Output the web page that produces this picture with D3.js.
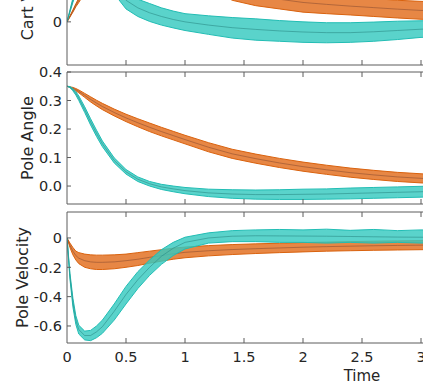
<!DOCTYPE html>
<html>
<head>
<meta charset="utf-8">
<script src="https://cdn.jsdelivr.net/npm/d3@7"></script>
<style>
  html, body { margin: 0; padding: 0; background: #fff; }
  svg { display: block; font-family: "DejaVu Sans", sans-serif; }
</style>
</head>
<body>
<svg id="chart" width="423" height="392"></svg>
<script>
// sample times (s)
const time = [0, 0.025, 0.05, 0.075, 0.1, 0.15, 0.2, 0.25, 0.3, 0.4, 0.5, 0.6, 0.7, 0.8, 0.9, 1.0, 1.2, 1.4, 1.6, 1.8, 2.0, 2.2, 2.4, 2.6, 2.8, 3.0, 3.25];

// Cart velocity bundles (low edge, middle, high edge)
const cartOrangeLo  = [0, 0.022, 0.045, 0.07, 0.09, 0.135, 0.17, 0.205, 0.23, 0.265, 0.28, 0.285, 0.28, 0.265, 0.245, 0.225, 0.165, 0.1, 0.075, 0.06, 0.045, 0.038, 0.032, 0.025, 0.018, 0.012, 0.008];
const cartOrangeMid = [0, 0.025, 0.05, 0.077, 0.1, 0.15, 0.19, 0.23, 0.26, 0.3, 0.32, 0.325, 0.32, 0.305, 0.285, 0.265, 0.21, 0.15, 0.122, 0.105, 0.09, 0.081, 0.073, 0.066, 0.059, 0.053, 0.049];
const cartOrangeHi  = [0, 0.028, 0.055, 0.084, 0.11, 0.165, 0.21, 0.255, 0.29, 0.335, 0.36, 0.365, 0.36, 0.345, 0.325, 0.305, 0.255, 0.2, 0.17, 0.15, 0.135, 0.125, 0.115, 0.108, 0.1, 0.095, 0.09];
const cartTealLo    = [0, 0.045, 0.09, 0.13, 0.17, 0.23, 0.26, 0.26, 0.23, 0.13, 0.06, 0.025, 0.002, -0.015, -0.028, -0.04, -0.058, -0.075, -0.085, -0.09, -0.095, -0.097, -0.095, -0.09, -0.082, -0.072, -0.068];
const cartTealMid   = [0, 0.05, 0.1, 0.15, 0.19, 0.26, 0.3, 0.3, 0.27, 0.17, 0.1, 0.065, 0.042, 0.025, 0.011, 0.0, -0.015, -0.027, -0.035, -0.042, -0.047, -0.05, -0.05, -0.046, -0.04, -0.034, -0.03];
const cartTealHi    = [0, 0.055, 0.11, 0.17, 0.21, 0.29, 0.34, 0.35, 0.32, 0.22, 0.14, 0.105, 0.085, 0.065, 0.05, 0.038, 0.028, 0.02, 0.014, 0.006, 0.0, -0.004, -0.004, -0.001, 0.003, 0.005, 0.008];

// Pole angle bundles
const angleOrangeLo  = [0.35, 0.346, 0.34, 0.334, 0.327, 0.311, 0.295, 0.281, 0.268, 0.246, 0.226, 0.208, 0.191, 0.176, 0.162, 0.148, 0.12, 0.097, 0.08, 0.065, 0.052, 0.041, 0.031, 0.023, 0.016, 0.011, 0.006];
const angleOrangeMid = [0.35, 0.347, 0.343, 0.338, 0.332, 0.318, 0.304, 0.291, 0.279, 0.258, 0.239, 0.222, 0.206, 0.191, 0.177, 0.163, 0.136, 0.113, 0.096, 0.081, 0.068, 0.057, 0.047, 0.039, 0.032, 0.027, 0.022];
const angleOrangeHi  = [0.35, 0.348, 0.346, 0.342, 0.337, 0.325, 0.313, 0.301, 0.29, 0.27, 0.252, 0.236, 0.221, 0.206, 0.192, 0.178, 0.152, 0.129, 0.112, 0.097, 0.084, 0.073, 0.063, 0.055, 0.048, 0.043, 0.038];
const angleTealLo    = [0.35, 0.345, 0.334, 0.319, 0.3, 0.258, 0.214, 0.174, 0.138, 0.081, 0.042, 0.016, 0.0, -0.012, -0.02, -0.027, -0.037, -0.043, -0.046, -0.047, -0.047, -0.046, -0.045, -0.043, -0.041, -0.039, -0.037];
const angleTealMid   = [0.35, 0.347, 0.338, 0.325, 0.308, 0.268, 0.225, 0.185, 0.148, 0.09, 0.05, 0.024, 0.008, -0.003, -0.01, -0.016, -0.024, -0.028, -0.03, -0.03, -0.029, -0.028, -0.026, -0.024, -0.022, -0.02, -0.018];
const angleTealHi    = [0.35, 0.349, 0.342, 0.331, 0.316, 0.278, 0.236, 0.196, 0.158, 0.099, 0.058, 0.032, 0.016, 0.006, 0.0, -0.005, -0.011, -0.013, -0.014, -0.013, -0.011, -0.01, -0.007, -0.005, -0.003, -0.001, 0.001];

// Pole velocity bundles
const poleOrangeLo  = [0, -0.065, -0.115, -0.15, -0.175, -0.2, -0.21, -0.215, -0.215, -0.21, -0.2, -0.188, -0.172, -0.158, -0.145, -0.135, -0.122, -0.113, -0.106, -0.1, -0.095, -0.09, -0.087, -0.084, -0.082, -0.08, -0.077];
const poleOrangeMid = [0, -0.05, -0.09, -0.12, -0.138, -0.155, -0.163, -0.166, -0.166, -0.163, -0.155, -0.145, -0.132, -0.12, -0.108, -0.098, -0.087, -0.079, -0.073, -0.068, -0.063, -0.059, -0.056, -0.053, -0.051, -0.049, -0.046];
const poleOrangeHi  = [0, -0.035, -0.065, -0.09, -0.1, -0.11, -0.115, -0.117, -0.117, -0.115, -0.11, -0.1, -0.09, -0.08, -0.07, -0.062, -0.052, -0.045, -0.04, -0.036, -0.031, -0.028, -0.025, -0.022, -0.02, -0.018, -0.015];
const poleTealLo    = [0, -0.28, -0.47, -0.59, -0.655, -0.695, -0.7, -0.68, -0.65, -0.56, -0.45, -0.345, -0.255, -0.18, -0.12, -0.075, -0.035, -0.025, -0.025, -0.03, -0.03, -0.035, -0.03, -0.035, -0.03, -0.035, -0.03];
const poleTealMid   = [0, -0.26, -0.44, -0.56, -0.625, -0.665, -0.665, -0.64, -0.605, -0.5, -0.385, -0.285, -0.2, -0.125, -0.07, -0.03, 0.0, 0.012, 0.015, 0.014, 0.013, 0.012, 0.01, 0.008, 0.006, 0.005, 0.004];
const poleTealHi    = [0, -0.24, -0.41, -0.53, -0.595, -0.635, -0.63, -0.6, -0.56, -0.45, -0.33, -0.23, -0.15, -0.08, -0.03, 0.005, 0.035, 0.05, 0.055, 0.058, 0.055, 0.06, 0.052, 0.058, 0.05, 0.055, 0.05];

const xTicks = [0, 0.5, 1, 1.5, 2, 2.5, 3];

const orange = { fill: "#e26d1c", line: "#d9620e", dark: "#8f5032" };
const teal = { fill: "#36c9c0", line: "#22bdb4", dark: "#2b8c87" };

const panels = [
  { label: "Cart Velocity", top: -86, bottom: 65, domain: [-0.2, 0.5], ticks: [0], labelX: 33,
    bundles: [[orange, cartOrangeLo, cartOrangeMid, cartOrangeHi], [teal, cartTealLo, cartTealMid, cartTealHi]] },
  { label: "Pole Angle", top: 72, bottom: 204, domain: [-0.063, 0.4], ticks: [0, 0.1, 0.2, 0.3, 0.4], labelX: 33,
    bundles: [[orange, angleOrangeLo, angleOrangeMid, angleOrangeHi], [teal, angleTealLo, angleTealMid, angleTealHi]] },
  { label: "Pole Velocity", top: 212, bottom: 343, domain: [-0.716, 0.177], ticks: [-0.6, -0.4, -0.2, 0], labelX: 28,
    bundles: [[orange, poleOrangeLo, poleOrangeMid, poleOrangeHi], [teal, poleTealLo, poleTealMid, poleTealHi]] }
];

const svg = d3.select("#chart");
const left = 67;
const x = d3.scaleLinear().domain([0, 3.25]).range([left, left + 118 * 3.25]);
const right = x(3.25);

function fmt(d) {
  if (d === 0) return "0";
  return d3.format(".1f")(d).replace("\u2212", "-");
}

panels.forEach((p, i) => {
  const y = d3.scaleLinear().domain(p.domain).range([p.bottom, p.top]);
  const g = svg.append("g");

  g.append("clipPath").attr("id", "clip" + i)
    .append("rect")
    .attr("x", left).attr("y", p.top)
    .attr("width", right - left).attr("height", p.bottom - p.top);

  const plot = g.append("g").attr("clip-path", "url(#clip" + i + ")");

  p.bundles.forEach(([c, lo, mid, hi]) => {
    const area = d3.area()
      .x((d, k) => x(time[k]))
      .y0((d, k) => y(lo[k]))
      .y1((d, k) => y(hi[k]));
    plot.append("path")
      .attr("d", area(time))
      .attr("fill", c.fill)
      .attr("fill-opacity", 0.82);

    const line = d3.line().x((d, k) => x(time[k])).y(d => y(d));
    [lo, hi].forEach(s => {
      plot.append("path")
        .attr("d", line(s))
        .attr("fill", "none")
        .attr("stroke", c.line)
        .attr("stroke-width", 1);
    });
    plot.append("path")
      .attr("d", line(mid))
      .attr("fill", "none")
      .attr("stroke", c.dark)
      .attr("stroke-opacity", 0.6)
      .attr("stroke-width", 1);
  });

  // frame
  const frame = "#5c5c5c";
  g.append("path")
    .attr("d", `M${right},${p.top}H${left}V${p.bottom}H${right}`)
    .attr("fill", "none")
    .attr("stroke", frame)
    .attr("stroke-width", 1);

  // inward ticks on top and bottom
  xTicks.filter(t => t > 0).forEach(t => {
    g.append("line")
      .attr("x1", x(t)).attr("x2", x(t))
      .attr("y1", p.bottom).attr("y2", p.bottom - 5)
      .attr("stroke", frame);
    g.append("line")
      .attr("x1", x(t)).attr("x2", x(t))
      .attr("y1", p.top).attr("y2", p.top + 5)
      .attr("stroke", frame);
  });

  // y ticks + labels
  p.ticks.forEach(t => {
    g.append("line")
      .attr("x1", left).attr("x2", left + 4)
      .attr("y1", y(t)).attr("y2", y(t))
      .attr("stroke", frame);
    g.append("text")
      .attr("x", 62).attr("y", y(t))
      .attr("dy", "0.36em")
      .attr("text-anchor", "end")
      .attr("font-size", 14.5)
      .attr("fill", "#262626")
      .text(p.label === "Pole Angle" ? d3.format(".1f")(t) : fmt(t));
  });

  g.append("text")
    .attr("transform", `translate(${p.labelX},${(p.top + p.bottom) / 2}) rotate(-90)`)
    .attr("text-anchor", "middle")
    .attr("font-size", 16)
    .attr("fill", "#262626")
    .text(p.label);
});

// x tick labels under the last panel
xTicks.forEach(t => {
  svg.append("text")
    .attr("x", x(t)).attr("y", 362)
    .attr("text-anchor", "middle")
    .attr("font-size", 14.5)
    .attr("fill", "#262626")
    .text(t);
});

svg.append("text")
  .attr("x", x(2.5)).attr("y", 381)
  .attr("text-anchor", "middle")
  .attr("font-size", 15)
  .attr("fill", "#262626")
  .text("Time");
</script>
</body>
</html>
